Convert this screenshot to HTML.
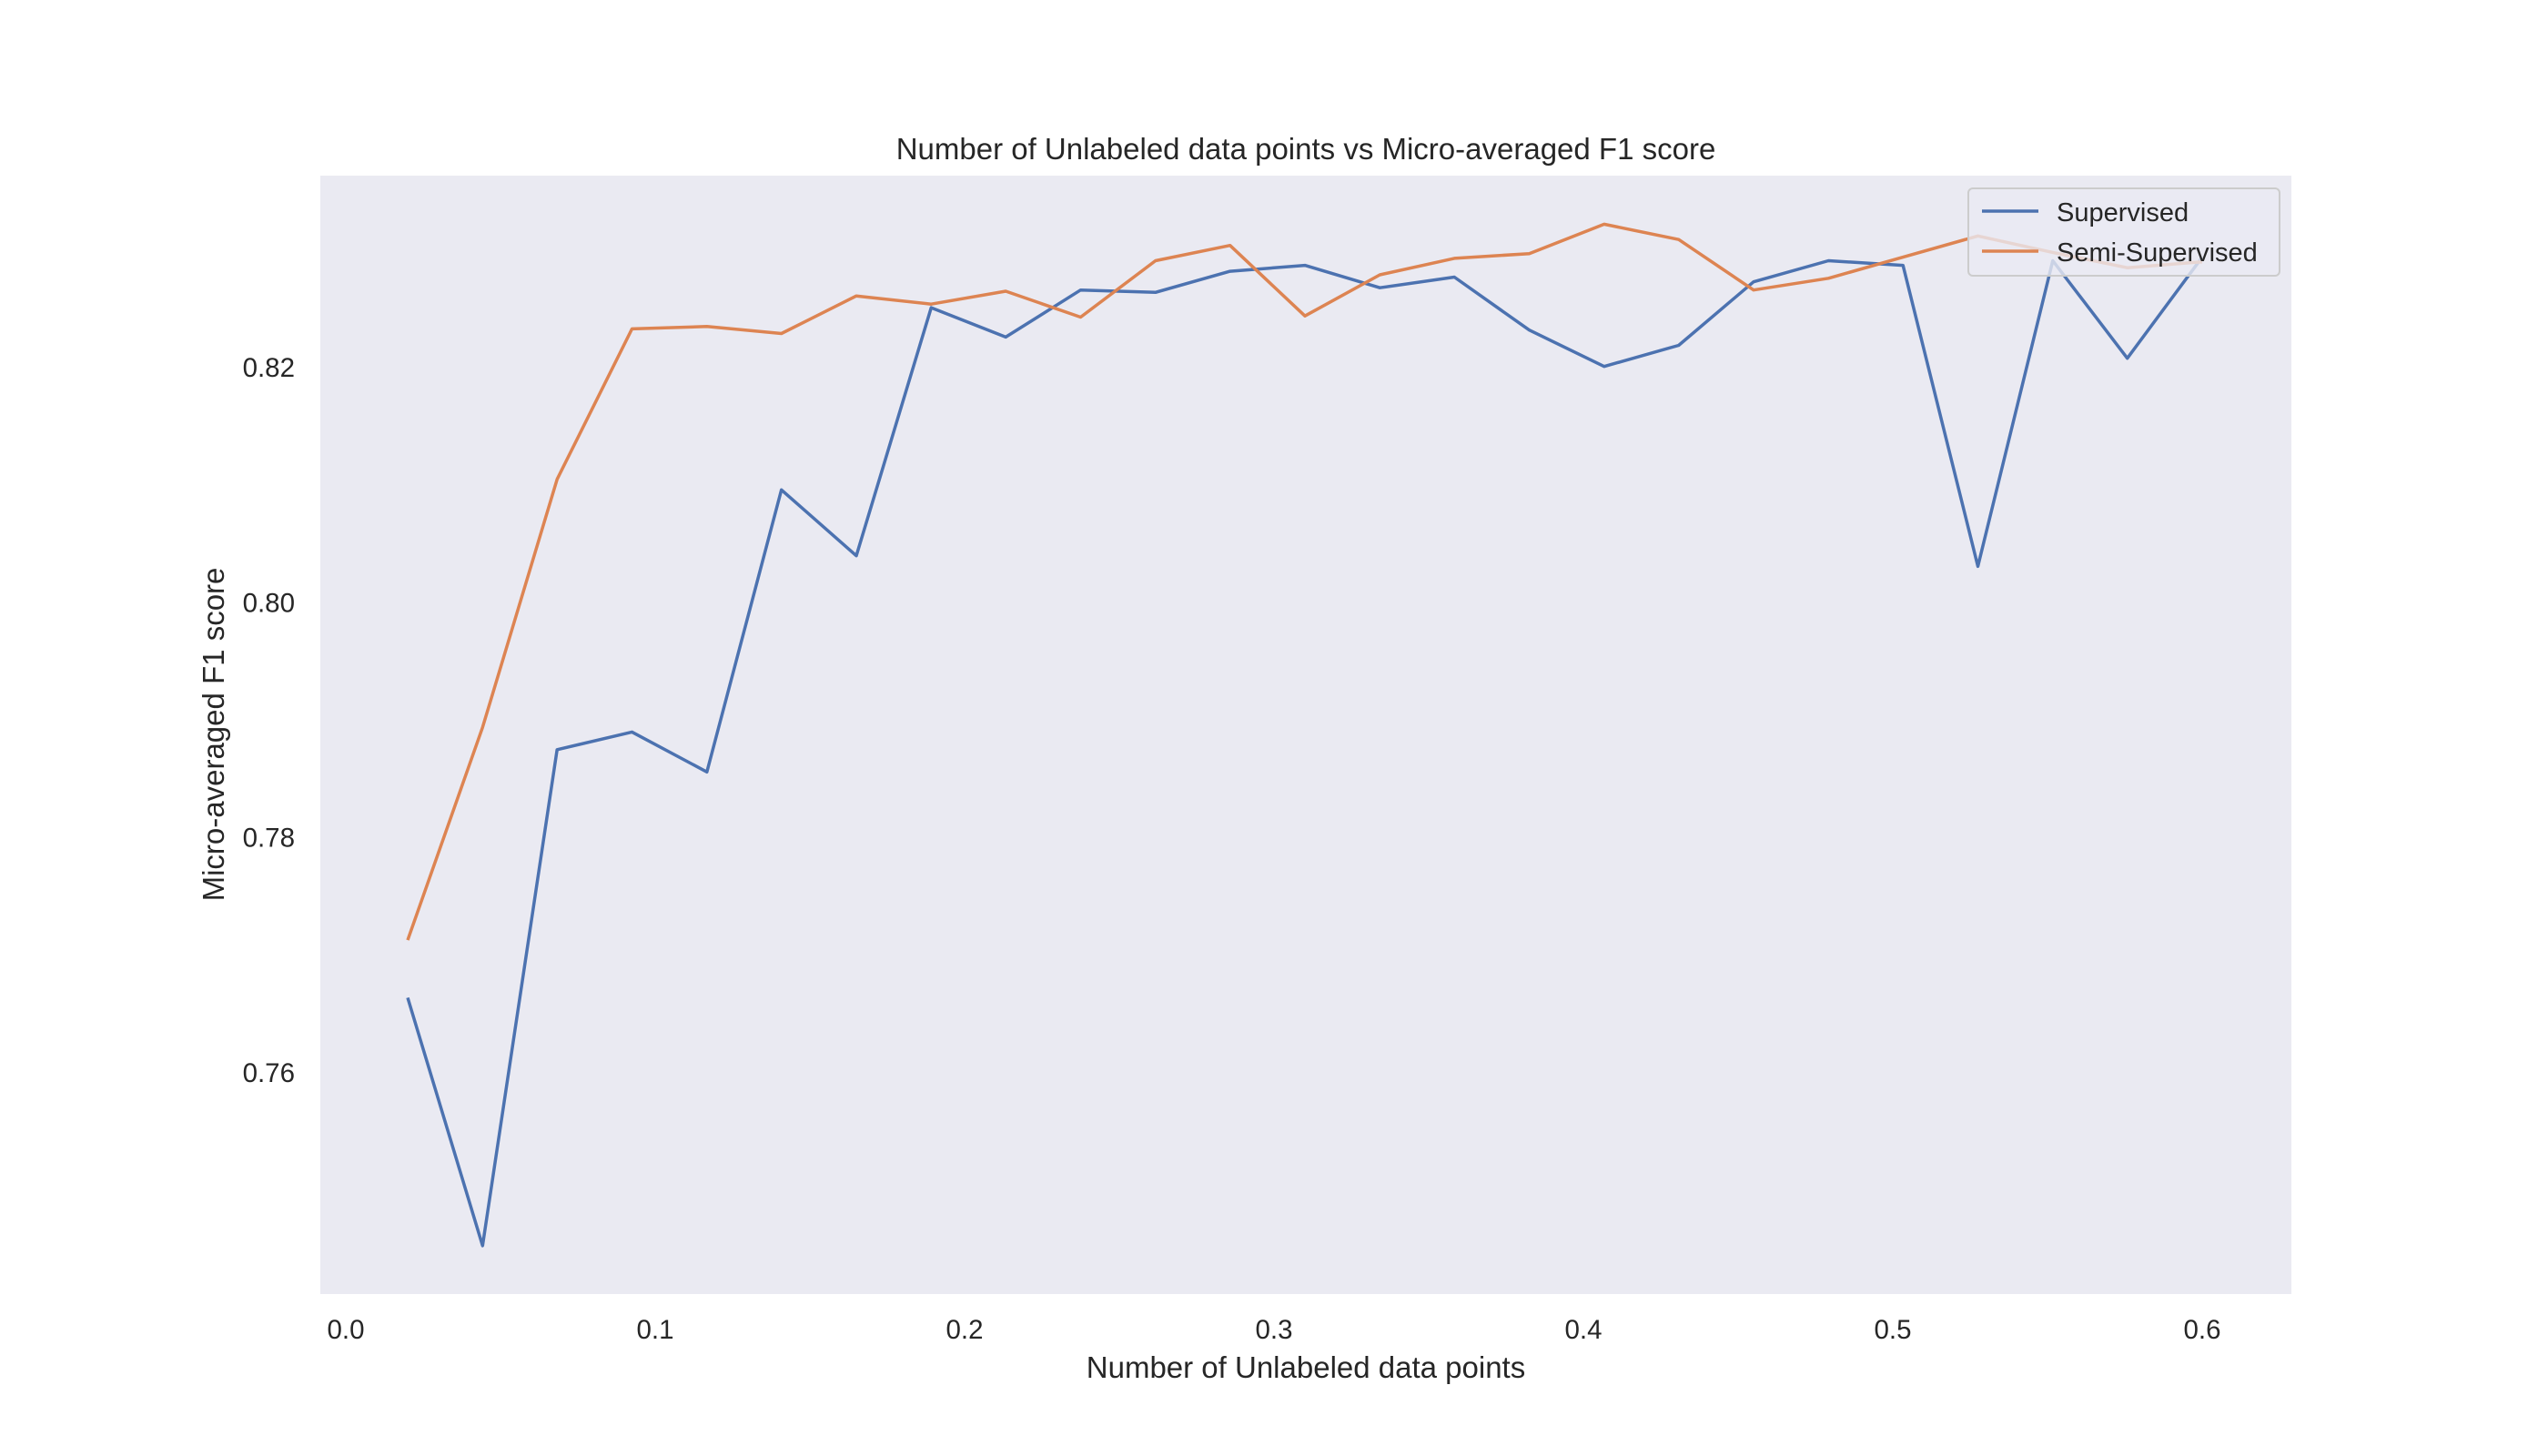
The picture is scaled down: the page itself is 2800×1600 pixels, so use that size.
<!DOCTYPE html>
<html><head><meta charset="utf-8"><style>
html,body{margin:0;padding:0;background:#fff;}
svg{display:block;font-family:"Liberation Sans",Arial,sans-serif;}
</style></head><body>
<svg id="chart" width="2800" height="1600" viewBox="0 0 2800 1600">
<rect x="0" y="0" width="2800" height="1600" fill="#ffffff"/>
<rect x="352" y="193" width="2166" height="1229" fill="#eaeaf2"/>
<text x="1435" y="175" font-size="33" fill="#262626" text-anchor="middle">Number of Unlabeled data points vs Micro-averaged F1 score</text>
<text x="1435" y="1514" font-size="33" fill="#262626" text-anchor="middle">Number of Unlabeled data points</text>
<text x="0" y="0" font-size="33" fill="#262626" text-anchor="middle" transform="translate(246,807) rotate(-90)">Micro-averaged F1 score</text>
<g id="xticks"></g>
<g id="yticks"></g>
<g id="series"></g>
<g>
<rect x="2163" y="207" width="342" height="96" rx="5" fill="#eaeaf2" fill-opacity="0.8" stroke="#cccccc" stroke-width="2"/>
<line x1="2178" y1="232" x2="2240" y2="232" stroke="#4c72b0" stroke-width="3.5"/>
<text x="2260" y="243" font-size="29" fill="#262626">Supervised</text>
<line x1="2178" y1="276" x2="2240" y2="276" stroke="#dd8452" stroke-width="3.5"/>
<text x="2260" y="287" font-size="29" fill="#262626">Semi-Supervised</text>
</g>
</svg>
<script>
const xValues = [0.0200,0.0442,0.0683,0.0925,0.1167,0.1408,0.1650,0.1892,0.2133,0.2375,0.2617,0.2858,0.3100,0.3342,0.3583,0.3825,0.4067,0.4308,0.4550,0.4792,0.5033,0.5275,0.5517,0.5758,0.6000];
const supervised = [0.7664,0.7453,0.7875,0.7890,0.7856,0.8096,0.8040,0.8251,0.8226,0.8266,0.8264,0.8282,0.8287,0.8268,0.8277,0.8232,0.8201,0.8219,0.8273,0.8291,0.8287,0.8031,0.8291,0.8208,0.8294];
const semiSupervised = [0.7713,0.7894,0.8105,0.8233,0.8235,0.8229,0.8261,0.8254,0.8265,0.8243,0.8291,0.8304,0.8244,0.8279,0.8293,0.8297,0.8322,0.8309,0.8266,0.8276,0.8294,0.8312,0.8298,0.8285,0.8290];
const xTicks = [0.0,0.1,0.2,0.3,0.4,0.5,0.6];
const xTickLabels = ["0.0","0.1","0.2","0.3","0.4","0.5","0.6"];
const yTicks = [0.76,0.78,0.80,0.82];
const yTickLabels = ["0.76","0.78","0.80","0.82"];

const NS = "http://www.w3.org/2000/svg";
function xs(v){ return 380 + v*3400; }
function ys(v){ return 404 + (0.82 - v)*12917; }

const xg = document.getElementById('xticks');
xTicks.forEach((t,i)=>{
  const tx = document.createElementNS(NS,'text');
  
  
  tx.setAttribute('x', xs(t)); tx.setAttribute('y', 1471);
  tx.setAttribute('font-size','29.5'); tx.setAttribute('fill','#262626');
  tx.setAttribute('text-anchor','middle');
  tx.textContent = xTickLabels[i];
  xg.appendChild(tx);
});
const yg = document.getElementById('yticks');
yTicks.forEach((t,i)=>{
  const tx = document.createElementNS(NS,'text');
  
  
  tx.setAttribute('x', 324); tx.setAttribute('y', ys(t)+10);
  tx.setAttribute('font-size','29.5'); tx.setAttribute('fill','#262626');
  tx.setAttribute('text-anchor','end');
  tx.textContent = yTickLabels[i];
  yg.appendChild(tx);
});
const sg = document.getElementById('series');
function drawLine(vals, color, name){
  const p = document.createElementNS(NS,'polyline');
  
  
  p.setAttribute('points', vals.map((v,i)=>xs(xValues[i]).toFixed(1)+','+ys(v).toFixed(1)).join(' '));
  p.setAttribute('fill','none'); p.setAttribute('stroke',color);
  p.setAttribute('stroke-width','3.5'); p.setAttribute('stroke-linejoin','round');
  sg.appendChild(p);
}
drawLine(supervised,'#4c72b0','supervised-line');
drawLine(semiSupervised,'#dd8452','semi-supervised-line');
</script>
</body></html>
